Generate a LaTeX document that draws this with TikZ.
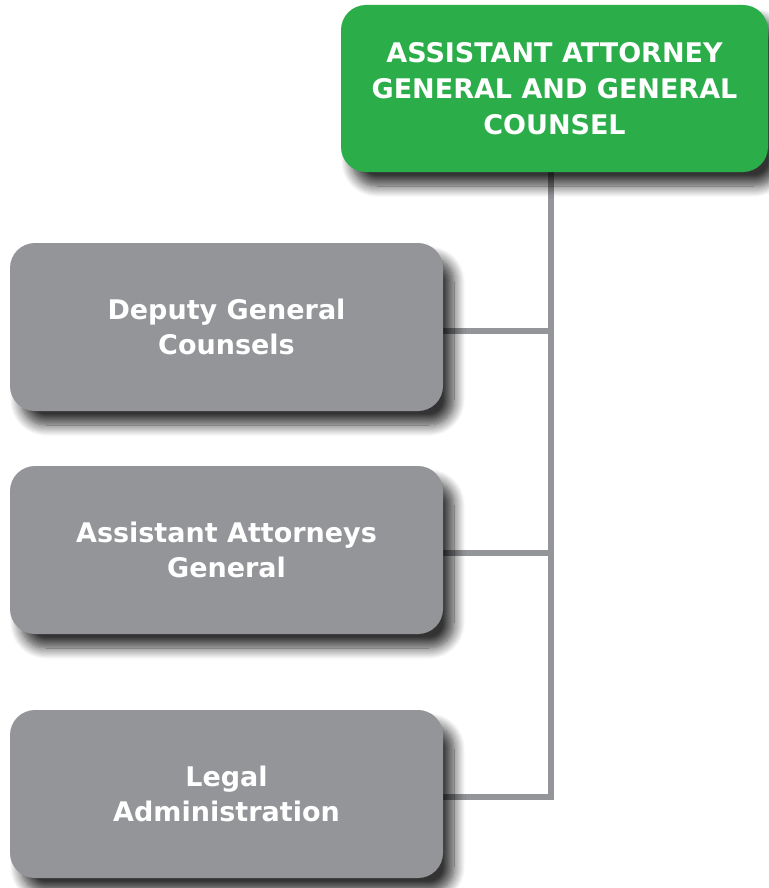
\documentclass[tikz,border=0pt]{standalone}
\usepackage{fontspec}
\setmainfont{DejaVu Sans}
\usetikzlibrary{shadows.blur}
\pgfdeclarelayer{bg}
\pgfsetlayers{bg,main}
\definecolor{boxgreen}{RGB}{43,174,74}
\definecolor{boxgray}{RGB}{147,149,152}
\definecolor{linegray}{RGB}{147,149,152}
\tikzset{
  orgbox/.style={rectangle, rounded corners=25pt, text=white, align=center,
    font=\fontsize{27}{34.5}\selectfont\bfseries, inner sep=0pt,
    blur shadow={shadow xshift=11pt, shadow yshift=-14pt, shadow blur radius=11pt, shadow opacity=80, shadow blur steps=12}},
  topbox/.style={orgbox, fill=boxgreen, minimum width=427pt, minimum height=167pt,
    font=\fontsize{27}{36}\selectfont\bfseries},
  graybox/.style={orgbox, fill=boxgray, minimum width=433pt, minimum height=168pt},
  conn/.style={draw=linegray, line width=5.5pt}
}
\begin{document}
\begin{tikzpicture}[x=1pt,y=-1pt]
\useasboundingbox (0,0) rectangle (768,888);
\node[topbox] (top) at (554.5,88.5) {ASSISTANT ATTORNEY\\GENERAL AND GENERAL\\COUNSEL};
\node[graybox] (b1) at (226.5,327) {Deputy General\\Counsels};
\node[graybox] (b2) at (226.5,550) {Assistant Attorneys\\General};
\node[graybox] (b3) at (226.5,794) {Legal\\Administration};
\coordinate (j1) at (551,331);
\coordinate (j2) at (551,553);
\coordinate (j3) at (551,797);
\begin{pgfonlayer}{bg}
\draw[conn] (j1 |- top.south) -- (j3) -- (b3.east |- j3);
\draw[conn] (b1.east |- j1) -- (j1);
\draw[conn] (b2.east |- j2) -- (j2);
\end{pgfonlayer}
\end{tikzpicture}
\end{document}
